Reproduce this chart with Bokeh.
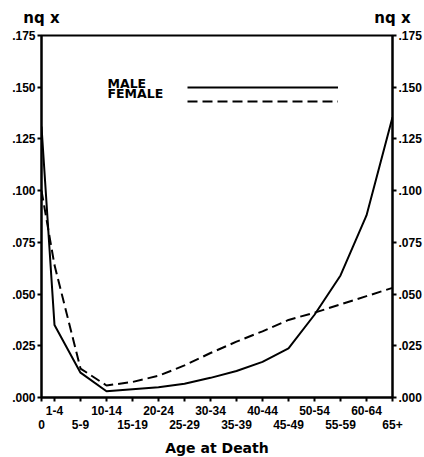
from bokeh.plotting import figure
from bokeh.models import (Range1d, LinearAxis, FixedTicker, CustomJSTickFormatter,
                          Label, Legend, LegendItem)
from bokeh.embed import file_html
from bokeh.resources import INLINE

# ---- data ----
age_groups = ["0", "1-4", "5-9", "10-14", "15-19", "20-24", "25-29", "30-34",
              "35-39", "40-44", "45-49", "50-54", "55-59", "60-64", "65+"]
male_qx = [0.131, 0.035, 0.012, 0.003, 0.004, 0.005, 0.0066, 0.0095,
           0.0128, 0.0172, 0.0237, 0.040, 0.059, 0.088, 0.1355]
female_qx = [0.100, 0.064, 0.014, 0.0058, 0.0075, 0.0105, 0.0155, 0.0215,
             0.027, 0.032, 0.0375, 0.041, 0.045, 0.049, 0.053]
y_ticks = [0.000, 0.025, 0.050, 0.075, 0.100, 0.125, 0.150, 0.175]
series_names = ["MALE", "FEMALE"]
axis_symbol = "nq x"

# category positions: first group at the axis, the rest one unit apart
xpos = [0.0] + [i - 0.5 for i in range(1, len(age_groups))]

FONT = "Liberation Sans"
BIG = "DejaVu Sans"

p = figure(frame_width=351, frame_height=362, output_backend="svg",
           toolbar_location=None, title=None,
           x_range=Range1d(0, xpos[-1]), y_range=Range1d(0, y_ticks[-1]),
           min_border_left=41, min_border_right=32, min_border_top=35,
           min_border_bottom=60, x_axis_location=None, y_axis_location=None)
p.xgrid.visible = False
p.ygrid.visible = False
p.outline_line_color = "black"
p.outline_line_width = 2
p.background_fill_color = "white"
p.border_fill_color = "white"

r_m = p.line(xpos, male_qx, line_color="black", line_width=2)
r_f = p.line(xpos, female_qx, line_color="black", line_width=2, line_dash="10 5")

yfmt = CustomJSTickFormatter(code="return tick.toFixed(3).replace(/^0/, '');")


def style_y(ax):
    ax.ticker = FixedTicker(ticks=y_ticks)
    ax.formatter = yfmt
    ax.axis_line_width = 2
    ax.major_tick_line_width = 2
    ax.major_tick_out = 4
    ax.major_tick_in = 0
    ax.minor_tick_line_color = None
    ax.major_label_standoff = 2
    ax.major_label_text_font = FONT
    ax.major_label_text_font_style = "bold"
    ax.major_label_text_font_size = "12px"
    ax.major_label_text_color = "black"


yl = LinearAxis()
style_y(yl)
p.add_layout(yl, "left")
yr = LinearAxis()
style_y(yr)
p.add_layout(yr, "right")

# x axis: two staggered rows of labels
upper = {xpos[i]: (age_groups[i] if i % 2 == 1 else "") for i in range(len(xpos))}
lower = {xpos[i]: (age_groups[i] if i % 2 == 0 else "") for i in range(len(xpos))}

x1 = LinearAxis(ticker=FixedTicker(ticks=xpos), major_label_overrides=upper)
x1.axis_line_width = 2
x1.major_tick_line_width = 2
x1.major_tick_out = 4
x1.major_tick_in = 0
x1.minor_tick_line_color = None
x1.major_label_standoff = 4
x1.major_label_text_font = FONT
x1.major_label_text_font_style = "bold"
x1.major_label_text_font_size = "12px"
x1.major_label_text_color = "black"
p.add_layout(x1, "below")

x2 = LinearAxis(ticker=FixedTicker(ticks=xpos), major_label_overrides=lower,
                axis_label="Age at Death")
x2.axis_line_color = None
x2.major_tick_line_color = None
x2.major_tick_out = 0
x2.major_tick_in = 0
x2.minor_tick_line_color = None
x2.major_label_standoff = 2
x2.major_label_text_font = FONT
x2.major_label_text_font_style = "bold"
x2.major_label_text_font_size = "12px"
x2.major_label_text_color = "black"
x2.axis_label_standoff = 8
x2.axis_label_text_font = BIG
x2.axis_label_text_font_style = "bold"
x2.axis_label_text_font_size = "14px"
x2.axis_label_text_color = "black"
p.add_layout(x2, "below")

# n q x symbols above both y axes
xt = LinearAxis(ticker=FixedTicker(ticks=[xpos[0], xpos[-1]]),
                major_label_overrides={xpos[0]: axis_symbol, xpos[-1]: axis_symbol})
xt.axis_line_color = None
xt.major_tick_line_color = None
xt.major_tick_out = 0
xt.major_tick_in = 0
xt.minor_tick_line_color = None
xt.major_label_standoff = 9
xt.major_label_text_font = BIG
xt.major_label_text_font_style = "bold"
xt.major_label_text_font_size = "15px"
xt.major_label_text_color = "black"
p.add_layout(xt, "above")

# legend: line keys to the right of the names
legend = Legend(items=[LegendItem(label="", renderers=[r_m]),
                       LegendItem(label="", renderers=[r_f])],
                location=(146, 289), orientation="vertical",
                glyph_width=151, glyph_height=14, label_height=14,
                label_width=0, label_standoff=0, spacing=0,
                padding=0, margin=0, border_line_color=None,
                background_fill_alpha=0)
p.add_layout(legend, "center")

for txt, yy in zip(series_names, [0.1520, 0.1470]):
    p.add_layout(Label(x=2.54, y=yy, text=txt, text_font=BIG,
                       text_font_style="bold", text_font_size="12.5px",
                       text_baseline="alphabetic", text_color="black"))

open("out.html", "w").write(file_html(p, INLINE))
